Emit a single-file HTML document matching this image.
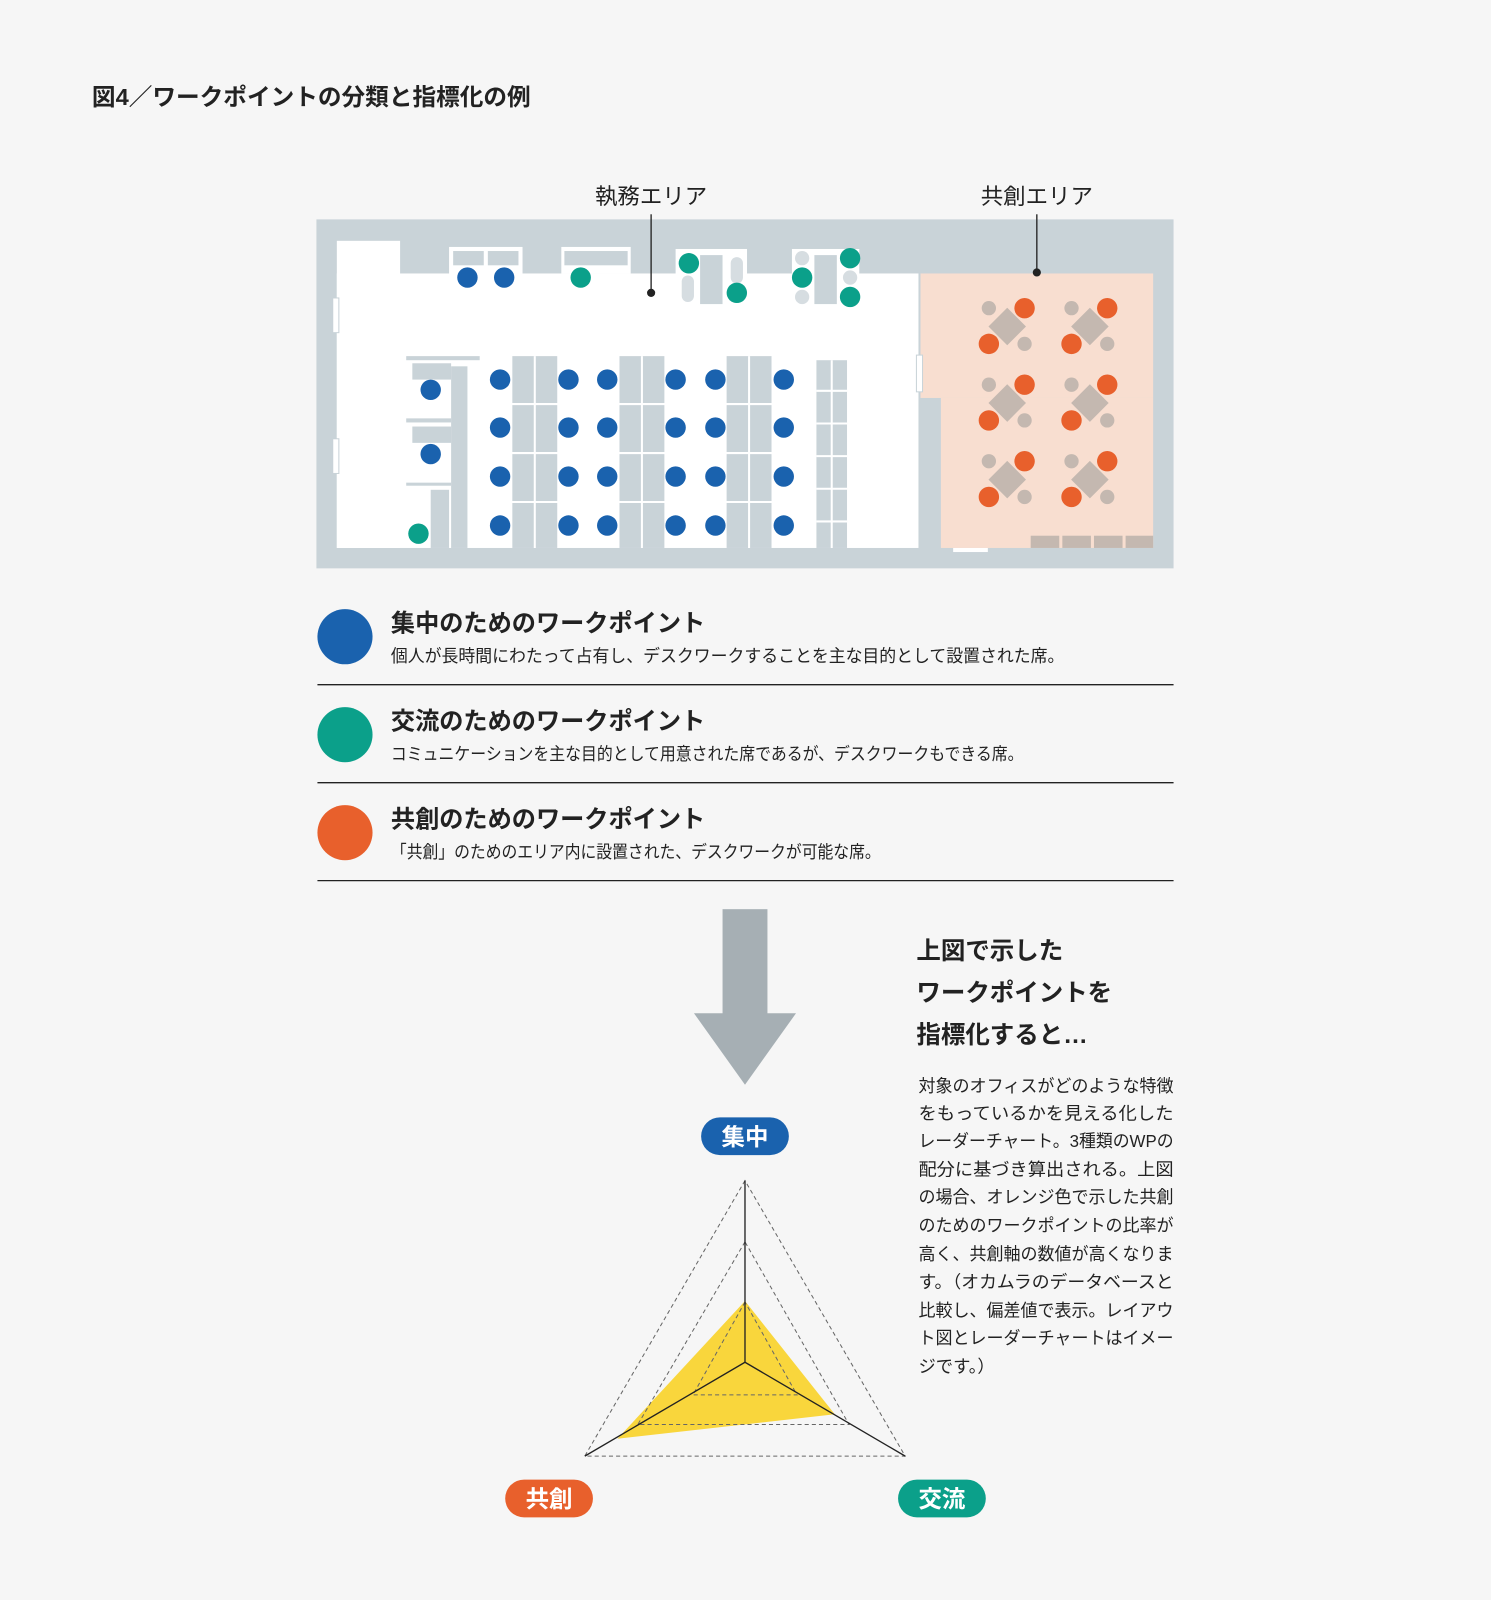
<!DOCTYPE html>
<html><head><meta charset="utf-8"><style>
html,body{margin:0;padding:0;background:#f6f6f6;}
svg{display:block;}
text{font-family:"Liberation Sans","Noto Sans CJK JP",sans-serif;fill:#222;}
.b{font-weight:bold;}
</style></head><body>
<svg width="1491" height="1600" viewBox="0 0 1461 1568" xmlns="http://www.w3.org/2000/svg">
<rect width="1461" height="1568" fill="#f6f6f6"/>
<text x="90" y="103" class="b" font-size="23" textLength="430" lengthAdjust="spacingAndGlyphs">図4／ワークポイントの分類と指標化の例</text>

<text x="638" y="200" font-size="22" text-anchor="middle">執務エリア</text>
<text x="1016" y="200" font-size="22" text-anchor="middle">共創エリア</text>

<rect x="310" y="215" width="840" height="342" fill="#c9d3d8"/>
<rect x="330" y="236" width="62" height="301" fill="#fff"/>
<rect x="330" y="268" width="570" height="269" fill="#fff"/>
<rect x="902" y="268" width="228" height="122" fill="#f8ded0"/>
<rect x="922" y="390" width="208" height="147" fill="#f8ded0"/>
<rect x="440" y="242" width="72" height="30" fill="#fff"/>
<rect x="444" y="246" width="30" height="14" fill="#c9d3d8"/><rect x="478" y="246" width="30" height="14" fill="#c9d3d8"/>
<rect x="550" y="242" width="68" height="26" fill="#fff"/><rect x="553" y="246" width="62" height="14" fill="#c9d3d8"/>
<rect x="662" y="244" width="70" height="64" fill="#fff"/><rect x="686" y="250" width="22" height="48" fill="#c9d3d8"/>
<rect x="668" y="270" width="12" height="26" rx="6" fill="#d6dde1"/><rect x="716" y="252" width="12" height="26" rx="6" fill="#d6dde1"/>
<rect x="776" y="244" width="66" height="56" fill="#fff"/><rect x="798" y="250" width="22" height="48" fill="#c9d3d8"/>
<rect x="398" y="349" width="72" height="4" fill="#c9d3d8"/>
<rect x="404" y="356" width="38" height="16" fill="#c9d3d8"/>
<rect x="398" y="410" width="44" height="4" fill="#c9d3d8"/>
<rect x="404" y="418" width="38" height="16" fill="#c9d3d8"/>
<rect x="398" y="473" width="44" height="3" fill="#c9d3d8"/>
<rect x="422" y="480" width="18" height="57" fill="#c9d3d8"/>
<rect x="442" y="359" width="16" height="178" fill="#c9d3d8"/>
<g fill="#c9d3d8">
<rect x="502" y="349" width="44" height="188"/>
<rect x="607" y="349" width="44" height="188"/>
<rect x="712" y="349" width="44" height="188"/>
<rect x="800" y="353" width="30" height="184"/>
</g>
<g stroke="#fff" stroke-width="2">
<line x1="524" y1="349" x2="524" y2="537"/><line x1="629" y1="349" x2="629" y2="537"/><line x1="734" y1="349" x2="734" y2="537"/><line x1="815" y1="353" x2="815" y2="537"/>
<line x1="500" y1="396" x2="760" y2="396"/><line x1="500" y1="444" x2="760" y2="444"/><line x1="500" y1="492" x2="760" y2="492"/>
<line x1="800" y1="383" x2="830" y2="383"/><line x1="800" y1="415" x2="830" y2="415"/><line x1="800" y1="447" x2="830" y2="447"/><line x1="800" y1="479" x2="830" y2="479"/><line x1="800" y1="511" x2="830" y2="511"/>
</g>
<rect x="326" y="292" width="6" height="34" fill="#fff" stroke="#c9d3d8"/>
<rect x="326" y="430" width="6" height="34" fill="#fff" stroke="#c9d3d8"/>
<rect x="898" y="348" width="6" height="36" fill="#fff" stroke="#c9d3d8"/>
<rect x="934" y="537" width="34" height="4" fill="#fff"/>
<g fill="#c4b8b0"><rect x="1010" y="525" width="28" height="12"/><rect x="1041" y="525" width="28" height="12"/><rect x="1072" y="525" width="28" height="12"/><rect x="1103" y="525" width="27" height="12"/></g>

<line x1="638" y1="210" x2="638" y2="287" stroke="#222" stroke-width="1.3"/><circle cx="638" cy="287" r="4" fill="#222"/>
<line x1="1016" y1="210" x2="1016" y2="267" stroke="#222" stroke-width="1.3"/><circle cx="1016" cy="267" r="4" fill="#222"/>

<g fill="#1a62ae">
<circle cx="458" cy="272" r="10"/><circle cx="494" cy="272" r="10"/>
<circle cx="422" cy="382" r="10"/><circle cx="422" cy="445" r="10"/>
<g id="row"><circle cx="490" cy="372" r="10"/><circle cx="557" cy="372" r="10"/><circle cx="595" cy="372" r="10"/><circle cx="662" cy="372" r="10"/><circle cx="701" cy="372" r="10"/><circle cx="768" cy="372" r="10"/></g>
<use href="#row" y="47"/><use href="#row" y="95"/><use href="#row" y="143"/>
</g>
<g fill="#d6dde1"><circle cx="786" cy="253" r="7"/><circle cx="786" cy="291" r="7"/><circle cx="833" cy="272" r="7"/></g>
<g fill="#0ba08a">
<circle cx="569" cy="272" r="10"/><circle cx="675" cy="258" r="10"/><circle cx="722" cy="287" r="10"/>
<circle cx="786" cy="272" r="10"/><circle cx="833" cy="253" r="10"/><circle cx="833" cy="291" r="10"/>
<circle cx="410" cy="523" r="10"/>
</g>
<defs>
<g id="tb">
<rect x="-13" y="-13" width="26" height="26" fill="#c4b8b0" transform="rotate(45)"/>
<circle cx="-18" cy="-18" r="7" fill="#c4b8b0"/><circle cx="17" cy="17" r="7" fill="#c4b8b0"/>
<circle cx="17" cy="-18" r="10" fill="#e8602c"/><circle cx="-18" cy="17" r="10" fill="#e8602c"/>
</g>
</defs>
<use href="#tb" x="987" y="320"/><use href="#tb" x="1068" y="320"/>
<use href="#tb" x="987" y="395"/><use href="#tb" x="1068" y="395"/>
<use href="#tb" x="987" y="470"/><use href="#tb" x="1068" y="470"/>

<circle cx="338" cy="624" r="27" fill="#1a62ae"/>
<circle cx="338" cy="720" r="27" fill="#0ba08a"/>
<circle cx="338" cy="816" r="27" fill="#e8602c"/>
<text x="383" y="619" class="b" font-size="24" textLength="308" lengthAdjust="spacingAndGlyphs">集中のためのワークポイント</text>
<text x="383" y="649" font-size="17" textLength="660" lengthAdjust="spacingAndGlyphs">個人が長時間にわたって占有し、デスクワークすることを主な目的として設置された席。</text>
<text x="383" y="715" class="b" font-size="24" textLength="308" lengthAdjust="spacingAndGlyphs">交流のためのワークポイント</text>
<text x="383" y="745" font-size="17" textLength="620" lengthAdjust="spacingAndGlyphs">コミュニケーションを主な目的として用意された席であるが、デスクワークもできる席。</text>
<text x="383" y="811" class="b" font-size="24" textLength="308" lengthAdjust="spacingAndGlyphs">共創のためのワークポイント</text>
<text x="383" y="841" font-size="17" textLength="480" lengthAdjust="spacingAndGlyphs">「共創」のためのエリア内に設置された、デスクワークが可能な席。</text>
<g stroke="#222" stroke-width="1.3"><line x1="311" y1="671" x2="1150" y2="671"/><line x1="311" y1="767" x2="1150" y2="767"/><line x1="311" y1="863" x2="1150" y2="863"/></g>

<rect x="708" y="891" width="44" height="103" fill="#a6afb4"/>
<polygon points="680,993 780,993 730,1063" fill="#a6afb4"/>

<g class="b" font-size="24">
<text x="898" y="940" class="b">上図で示した</text>
<text x="898" y="981" class="b">ワークポイントを</text>
<text x="898" y="1022" class="b">指標化すると…</text>
</g>
<g font-size="17">
<text x="900" y="1070" textLength="250" lengthAdjust="spacingAndGlyphs">対象のオフィスがどのような特徴</text>
<text x="900" y="1097" textLength="250" lengthAdjust="spacingAndGlyphs">をもっているかを見える化した</text>
<text x="900" y="1124" textLength="250" lengthAdjust="spacingAndGlyphs">レーダーチャート。3種類のWPの</text>
<text x="900" y="1152" textLength="250" lengthAdjust="spacingAndGlyphs">配分に基づき算出される。上図</text>
<text x="900" y="1179" textLength="250" lengthAdjust="spacingAndGlyphs">の場合、オレンジ色で示した共創</text>
<text x="900" y="1207" textLength="250" lengthAdjust="spacingAndGlyphs">のためのワークポイントの比率が</text>
<text x="900" y="1235" textLength="250" lengthAdjust="spacingAndGlyphs">高く、共創軸の数値が高くなりま</text>
<text x="900" y="1262" textLength="250" lengthAdjust="spacingAndGlyphs">す。（オカムラのデータベースと</text>
<text x="900" y="1290" textLength="250" lengthAdjust="spacingAndGlyphs">比較し、偏差値で表示。レイアウ</text>
<text x="900" y="1317" textLength="250" lengthAdjust="spacingAndGlyphs">ト図とレーダーチャートはイメー</text>
<text x="900" y="1345">ジです。）</text>
</g>

<polygon points="730,1275 818,1386 605,1410" fill="#f9d63c"/>
<g fill="none" stroke="#666" stroke-width="1" stroke-dasharray="4,3">
<polygon points="730,1157 573,1427 887,1427"/>
<polygon points="730,1217 625,1396 832,1396"/>
<polygon points="730,1276 679,1367 781,1367"/>
</g>
<g stroke="#222" stroke-width="1.3">
<line x1="730" y1="1157" x2="730" y2="1335"/>
<line x1="730" y1="1335" x2="573" y2="1427"/>
<line x1="730" y1="1335" x2="887" y2="1427"/>
</g>
<rect x="687" y="1095" width="86" height="37" rx="18.5" fill="#1a62ae"/>
<text x="730" y="1122" class="b" font-size="23" text-anchor="middle" style="fill:#fff">集中</text>
<rect x="495" y="1450" width="86" height="37" rx="18.5" fill="#e8602c"/>
<text x="538" y="1477" class="b" font-size="23" text-anchor="middle" style="fill:#fff">共創</text>
<rect x="880" y="1450" width="86" height="37" rx="18.5" fill="#0ba08a"/>
<text x="923" y="1477" class="b" font-size="23" text-anchor="middle" style="fill:#fff">交流</text>
</svg>
</body></html>
